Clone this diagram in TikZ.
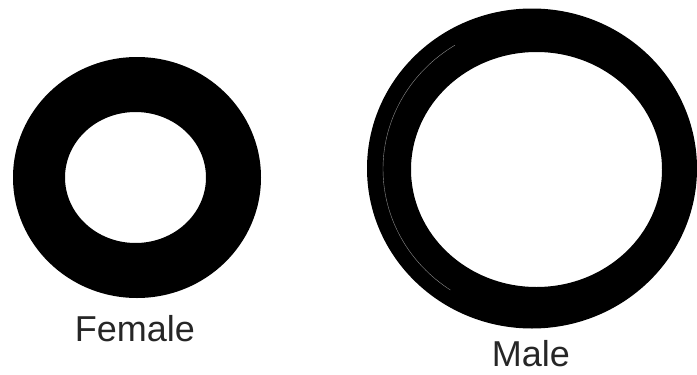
\documentclass[tikz,border=0pt]{standalone}
\usepackage{fontspec}
\setmainfont{Liberation Sans}
\usetikzlibrary{positioning}

\begin{document}
\begin{tikzpicture}[
	  x=1pt, y=-1pt,
	  ring/.style = {fill=black, even odd rule},
	  label/.style = {font=\fontsize{36}{40}\selectfont, text=black!85, inner sep=0pt, anchor=base}
	]
	  \useasboundingbox (0,0) rectangle (697,375);

	  % female ring
	  \fill[ring] (137,177.5) ellipse [x radius=124pt, y radius=120.5pt]
	              (135.5,177.5) ellipse [x radius=70.5pt, y radius=65.5pt];

	  % male ring
	  \fill[ring] (532,168.5) ellipse [x radius=165pt, y radius=160pt]
	              (536.5,169.5) ellipse [x radius=125.5pt, y radius=117.5pt];
	  \draw[black!45, line width=0.4pt] (536,169) ++(122:153pt and 146pt) arc [start angle=122, end angle=236, x radius=153pt, y radius=146pt];

	  \node[label] (female) at (135,341.5) {Female};
	  \node[label] (male) at (531,366.5) {Male};
	\end{tikzpicture}
\end{document}
